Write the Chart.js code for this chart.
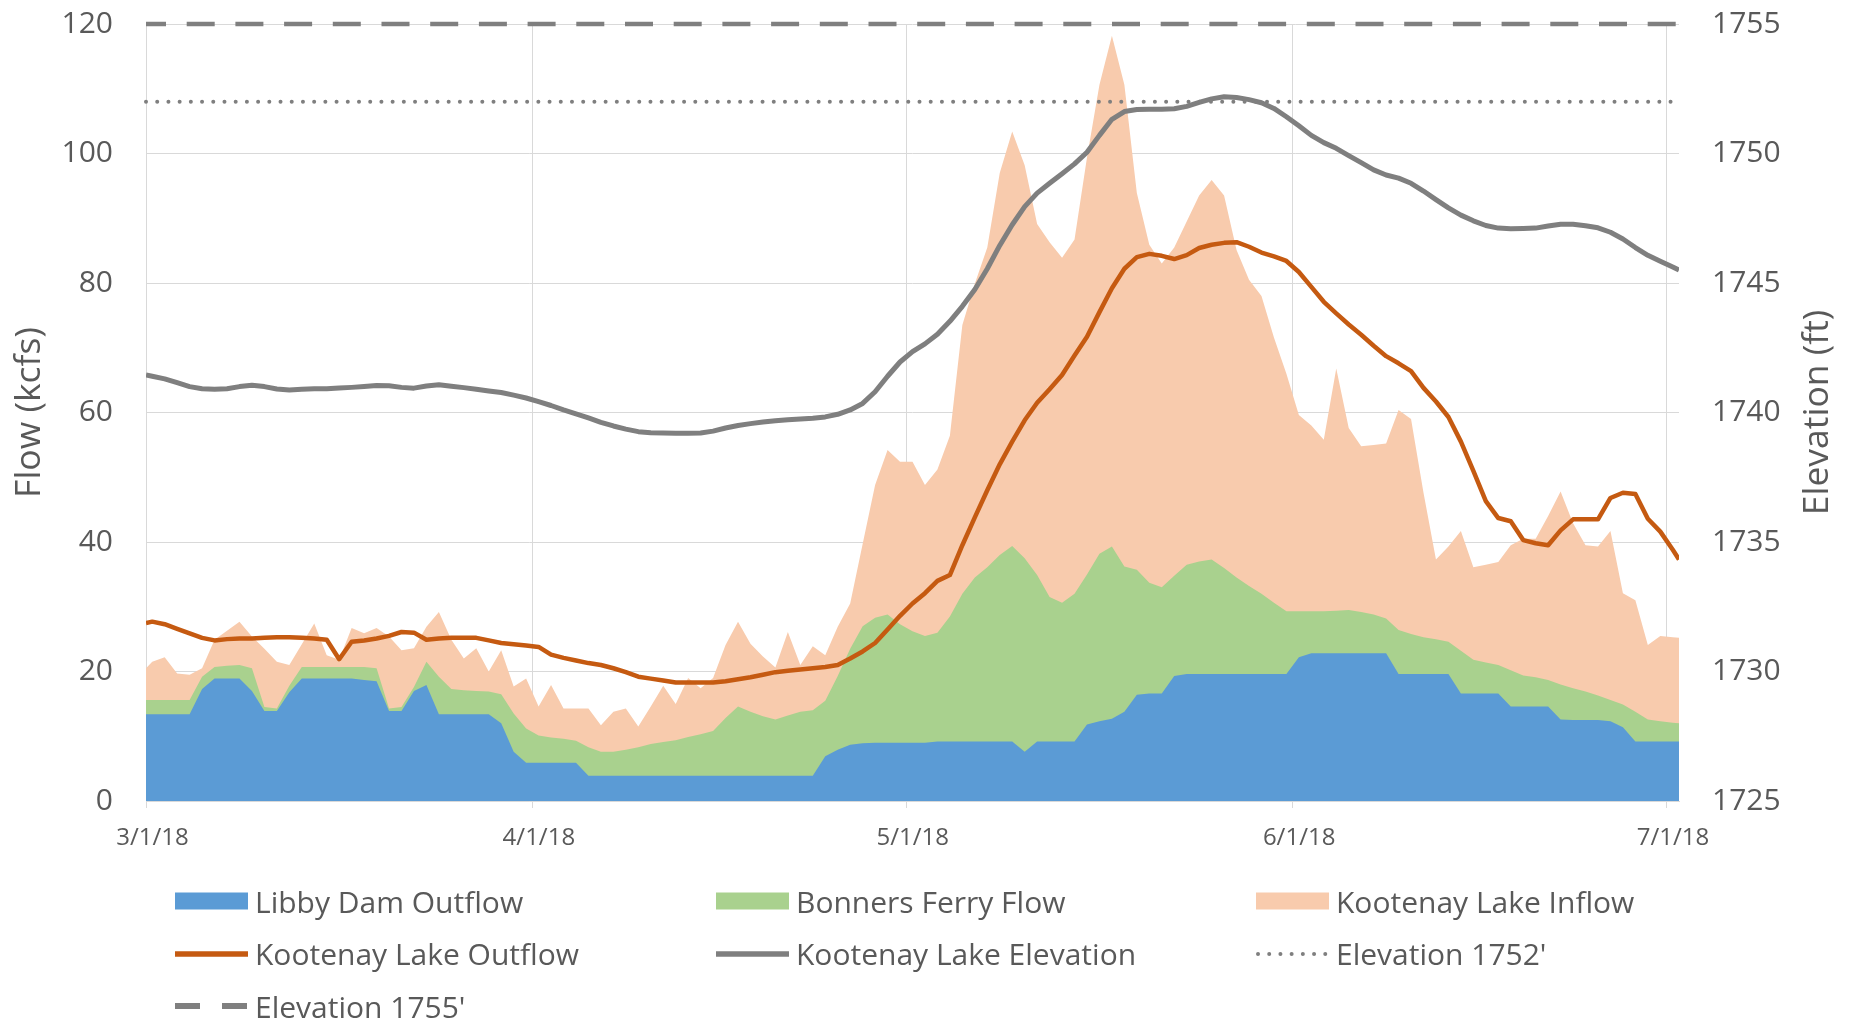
<!DOCTYPE html>
<html>
<head>
<meta charset="utf-8">
<script src="https://cdn.jsdelivr.net/npm/chart.js@4.4.1/dist/chart.umd.min.js"></script>
<style>
  html, body { margin: 0; padding: 0; background: #ffffff; }
  #wrap { position: relative; width: 1854px; height: 1024px; overflow: hidden; background: #ffffff; }
  #c { position: absolute; left: 0; top: 0; }
  #legend {
    position: absolute; left: 175px; top: 875px;
    display: grid; grid-template-columns: 541px 540px 400px; grid-auto-rows: 52.5px;
    font-family: "Open Sans", sans-serif; font-size: 30px; color: #595959;
  }
  .item { display: flex; align-items: center; white-space: nowrap; }
  .item svg { flex: none; margin-right: 7px; }
</style>
</head>
<body>
<div id="wrap">
  <canvas id="c" width="1854" height="1024"></canvas>
  <div id="legend"></div>
</div>
<script>
// ---- time axis: days since 3/1/18. Daily values sit mid-day (k + 0.5); the first and
//      last entries of each series are the values read at the left / right plot edges.
const startDate = new Date(2018, 2, 1);
const dayPos = [0];
for (let k = 0; k < 123; k++) dayPos.push(k + 0.5);
dayPos.push(123);
const tickLabels = ['3/1/18', '4/1/18', '5/1/18', '6/1/18', '7/1/18'];
const tickDays = tickLabels.map(s => {
  const [m, d, y] = s.split('/').map(Number);
  return Math.round((new Date(2000 + y, m - 1, d) - startDate) / 86400000);
});
const flowTicks = [0, 20, 40, 60, 80, 100, 120];
const elevTicks = [1725, 1730, 1735, 1740, 1745, 1750, 1755];

// ---- series (kcfs) ----
const libbyDamOutflow = [13.4,
  13.4,13.4,13.4,13.4,17.3,18.9,18.9,18.9,17.0,13.9,
  13.9,16.8,18.9,18.9,18.9,18.9,18.9,18.7,18.5,13.9,
  13.9,17.0,17.9,13.4,13.4,13.4,13.4,13.4,12.0,7.6,
  5.9,5.9,5.9,5.9,5.9,3.9,3.9,3.9,3.9,3.9,
  3.9,3.9,3.9,3.9,3.9,3.9,3.9,3.9,3.9,3.9,
  3.9,3.9,3.9,3.9,6.9,7.9,8.7,8.9,9.0,9.0,
  9.0,9.0,9.0,9.2,9.2,9.2,9.2,9.2,9.2,9.2,
  7.6,9.2,9.2,9.2,9.2,11.8,12.3,12.7,13.8,16.4,
  16.6,16.6,19.3,19.6,19.6,19.6,19.6,19.6,19.6,19.6,
  19.6,19.6,22.2,22.8,22.8,22.8,22.8,22.8,22.8,22.8,
  19.6,19.6,19.6,19.6,19.6,16.6,16.6,16.6,16.6,14.6,
  14.6,14.6,14.6,12.6,12.5,12.5,12.5,12.3,11.4,9.2,
  9.2,9.2,9.2,
  9.2];
const bonnersFerryFlow = [15.6,
  15.6,15.6,15.6,15.6,19.2,20.7,20.9,21.0,20.5,14.5,
  14.3,17.8,20.7,20.7,20.7,20.7,20.7,20.7,20.5,14.3,
  14.5,17.6,21.5,19.2,17.3,17.1,17.0,16.9,16.5,13.5,
  11.2,10.1,9.8,9.6,9.3,8.3,7.6,7.6,7.9,8.3,
  8.8,9.1,9.4,9.9,10.3,10.8,12.8,14.6,13.8,13.1,
  12.6,13.2,13.8,14.0,15.5,19.3,23.5,27.0,28.3,28.8,
  27.3,26.2,25.5,26.0,28.5,32.0,34.5,36.1,38.0,39.4,
  37.5,34.9,31.5,30.6,32.0,35.0,38.2,39.3,36.2,35.7,
  33.7,33.0,34.8,36.5,37.0,37.3,36.0,34.5,33.2,32.0,
  30.6,29.3,29.3,29.3,29.3,29.4,29.5,29.2,28.8,28.2,
  26.4,25.8,25.3,25.0,24.6,23.2,21.8,21.4,21.0,20.2,
  19.4,19.1,18.7,18.0,17.4,16.9,16.3,15.6,14.9,13.8,
  12.6,12.3,12.1,
  12.0];
const kootenayLakeInflow = [20.5,
  21.5,22.2,19.7,19.5,20.5,24.9,26.3,27.7,25.4,23.5,
  21.5,21.0,24.2,27.4,22.5,21.8,26.7,25.9,26.7,25.4,
  23.3,23.6,26.9,29.2,24.9,22.0,23.6,20.0,23.3,17.7,
  18.9,14.6,17.9,14.3,14.3,14.3,11.7,13.8,14.3,11.5,
  14.6,17.8,15.0,19.0,17.4,19.0,24.1,27.7,24.3,22.3,
  20.6,26.1,21.0,23.9,22.5,26.9,30.5,39.7,48.8,54.2,
  52.4,52.4,48.8,51.2,56.4,73.5,79.9,85.5,97.0,103.4,
  98.2,89.1,86.3,83.9,86.7,99.4,110.6,118.2,110.6,93.9,
  85.9,83.0,85.5,89.5,93.5,95.9,93.5,85.1,80.5,78.0,
  71.6,66.0,59.6,58.0,55.8,66.8,57.6,54.8,55.0,55.2,
  60.4,59.0,47.6,37.3,39.3,41.7,36.1,36.5,36.9,39.5,
  40.5,40.5,44.0,47.8,42.9,39.5,39.3,41.7,32.1,31.0,
  24.1,25.5,25.3,
  25.2];
const kootenayLakeOutflow = [27.5,
  27.7,27.3,26.6,25.9,25.2,24.8,25.0,25.1,25.1,25.2,
  25.3,25.3,25.2,25.1,24.9,21.9,24.6,24.8,25.1,25.5,
  26.1,26.0,24.9,25.1,25.2,25.2,25.2,24.8,24.4,24.2,
  24.0,23.8,22.6,22.1,21.7,21.3,21.0,20.5,19.9,19.2,
  18.9,18.6,18.3,18.3,18.3,18.3,18.5,18.8,19.1,19.5,
  19.9,20.1,20.3,20.5,20.7,21.0,22.0,23.1,24.4,26.5,
  28.6,30.5,32.1,34.0,34.9,39.5,43.8,48.0,52.0,55.5,
  58.8,61.5,63.6,65.8,68.8,71.7,75.5,79.2,82.2,84.0,
  84.5,84.2,83.7,84.3,85.4,85.9,86.2,86.3,85.6,84.7,
  84.1,83.4,81.7,79.4,77.1,75.3,73.6,72.0,70.3,68.7,
  67.6,66.4,63.8,61.7,59.3,55.5,51.0,46.3,43.7,43.2,
  40.3,39.8,39.5,41.8,43.5,43.5,43.5,46.8,47.6,47.4,
  43.6,41.6,38.8,
  37.3];
// ---- series (ft) ----
const kootenayLakeElevation = [1741.45,
  1741.4,1741.3,1741.15,1741.0,1740.92,1740.9,1740.92,1741.0,1741.05,1741.0,
  1740.91,1740.87,1740.9,1740.92,1740.92,1740.95,1740.97,1741.0,1741.04,1741.03,
  1740.97,1740.94,1741.02,1741.07,1741.01,1740.96,1740.9,1740.83,1740.77,1740.67,
  1740.56,1740.42,1740.27,1740.1,1739.95,1739.79,1739.62,1739.48,1739.36,1739.26,
  1739.22,1739.21,1739.2,1739.2,1739.21,1739.28,1739.4,1739.5,1739.57,1739.63,
  1739.68,1739.72,1739.75,1739.78,1739.83,1739.93,1740.1,1740.35,1740.8,1741.4,
  1741.95,1742.35,1742.65,1743.02,1743.52,1744.1,1744.75,1745.55,1746.45,1747.25,
  1747.95,1748.47,1748.85,1749.22,1749.6,1750.05,1750.7,1751.32,1751.62,1751.7,
  1751.71,1751.71,1751.73,1751.82,1751.97,1752.11,1752.19,1752.16,1752.08,1751.96,
  1751.74,1751.42,1751.07,1750.7,1750.42,1750.2,1749.92,1749.65,1749.37,1749.17,
  1749.05,1748.85,1748.55,1748.22,1747.9,1747.62,1747.4,1747.22,1747.12,1747.09,
  1747.1,1747.12,1747.2,1747.27,1747.27,1747.21,1747.13,1746.96,1746.7,1746.37,
  1746.07,1745.84,1745.62,
  1745.5];
const refDays = [0, 123];
const elevation1752 = [1752, 1752];
const elevation1755 = [1755, 1755];

// ---- chart ----
const textColor = '#595959';
const gridColor = '#d9d9d9';
const fontFamily = '"Open Sans", sans-serif';

const rightTitle = {
  id: 'rightTitle',
  afterDraw(chart) {
    const ctx = chart.ctx;
    const area = chart.chartArea;
    ctx.save();
    ctx.fillStyle = textColor;
    ctx.font = '35.5px ' + fontFamily;
    ctx.textAlign = 'center';
    ctx.textBaseline = 'middle';
    ctx.translate(1818, (area.top + area.bottom) / 2);
    ctx.rotate(-Math.PI / 2);
    ctx.fillText('Elevation (ft)', 0, 0);
    ctx.restore();
  }
};

const xy = (xs, ys) => ys.map((v, i) => ({ x: xs[i], y: v }));
const areaDs = (label, data, color, order) => ({
  label, data: xy(dayPos, data), yAxisID: 'y', fill: 'origin', backgroundColor: color,
  borderColor: 'rgba(0,0,0,0)', borderWidth: 0, pointRadius: 0, order
});
const refDs = (label, vals, extra) => Object.assign({
  label, data: xy(refDays, vals), yAxisID: 'y2',
  borderColor: '#7f7f7f', fill: false, pointRadius: 0, order: 0, clip: false
}, extra);

const chart = new Chart(document.getElementById('c'), {
  type: 'line',
  data: {
    datasets: [
      areaDs('Libby Dam Outflow', libbyDamOutflow, '#5b9bd5', 3),
      areaDs('Bonners Ferry Flow', bonnersFerryFlow, '#a9d18e', 4),
      areaDs('Kootenay Lake Inflow', kootenayLakeInflow, '#f8cbad', 5),
      { label: 'Kootenay Lake Outflow', data: xy(dayPos, kootenayLakeOutflow), yAxisID: 'y', fill: false,
        borderColor: '#c55a11', borderWidth: 4.5, pointRadius: 0, order: 2 },
      { label: 'Kootenay Lake Elevation', data: xy(dayPos, kootenayLakeElevation), yAxisID: 'y2', fill: false,
        borderColor: '#7f7f7f', borderWidth: 5, pointRadius: 0, order: 1 },
      refDs("Elevation 1752'", elevation1752, { borderWidth: 4, borderDash: [0.01, 11.2], borderCapStyle: 'round' }),
      refDs("Elevation 1755'", elevation1755, { borderWidth: 4.5, borderDash: [28, 20.7], borderDashOffset: 8, borderCapStyle: 'butt' })
    ]
  },
  options: {
    responsive: false,
    animation: false,
    devicePixelRatio: 1,
    layout: { padding: { top: 24, left: 0, right: 0, bottom: 0 } },
    plugins: { legend: { display: false }, tooltip: { enabled: false }, title: { display: false } },
    elements: { line: { tension: 0, borderJoinStyle: 'round' }, point: { radius: 0 } },
    scales: {
      x: {
        type: 'linear', min: 0, max: 123,
        afterBuildTicks: (s) => { s.ticks = tickDays.map(v => ({ value: v })); },
        grid: { color: gridColor, lineWidth: 1, drawTicks: true, tickLength: 7, tickColor: gridColor },
        border: { display: true, color: gridColor, width: 1 },
        ticks: {
          autoSkip: false, maxRotation: 0, minRotation: 0, padding: 16, labelOffset: 6.5,
          color: textColor, font: { family: fontFamily, size: 24 },
          callback: (v) => tickLabels[tickDays.indexOf(v)]
        },
        afterFit: (s) => { s.height = 223; s.paddingLeft = 0; s.paddingRight = 0; }
      },
      y: {
        position: 'left', min: 0, max: 120,
        afterBuildTicks: (s) => { s.ticks = flowTicks.map(v => ({ value: v })); },
        grid: { color: gridColor, lineWidth: 1, drawTicks: false },
        border: { display: false },
        ticks: { padding: 33, color: textColor, font: { family: fontFamily, size: 30 }, callback: (v) => String(v) },
        title: { display: true, text: 'Flow (kcfs)', color: textColor, font: { family: fontFamily, size: 35.5 }, padding: { top: 9, bottom: 0 } },
        afterFit: (s) => { s.width = 146; s.paddingTop = 0; s.paddingBottom = 0; }
      },
      y2: {
        position: 'right', min: 1725, max: 1755,
        afterBuildTicks: (s) => { s.ticks = elevTicks.map(v => ({ value: v })); },
        grid: { display: false, drawTicks: false },
        border: { display: false },
        ticks: { padding: 33, color: textColor, font: { family: fontFamily, size: 30 }, callback: (v) => String(v) },
        afterFit: (s) => { s.width = 175; s.paddingTop = 0; s.paddingBottom = 0; }
      }
    }
  },
  plugins: [rightTitle]
});

// ---- legend (HTML, built from the chart's datasets) ----
const swatch = (ds) => {
  const w = 73, h = 22;
  let inner;
  if (ds.fill === 'origin') {
    inner = `<rect x="0" y="2.5" width="${w}" height="17" fill="${ds.backgroundColor}"/>`;
  } else if (ds.borderDash && ds.borderDash[0] < 1) {
    inner = `<line x1="2" y1="11" x2="${w - 2}" y2="11" stroke="${ds.borderColor}" stroke-width="4" stroke-linecap="round" stroke-dasharray="0.01 11.2"/>`;
  } else if (ds.borderDash) {
    inner = `<line x1="0" y1="11" x2="${w}" y2="11" stroke="${ds.borderColor}" stroke-width="6" stroke-dasharray="25 22"/>`;
  } else {
    inner = `<line x1="0" y1="11" x2="${w}" y2="11" stroke="${ds.borderColor}" stroke-width="5.5"/>`;
  }
  return `<svg width="${w}" height="${h}" viewBox="0 0 ${w} ${h}">${inner}</svg>`;
};
const legendEl = document.getElementById('legend');
chart.data.datasets.forEach(ds => {
  const item = document.createElement('div');
  item.className = 'item';
  item.innerHTML = swatch(ds) + '<span></span>';
  item.querySelector('span').textContent = ds.label;
  legendEl.appendChild(item);
});
</script>
</body>
</html>
